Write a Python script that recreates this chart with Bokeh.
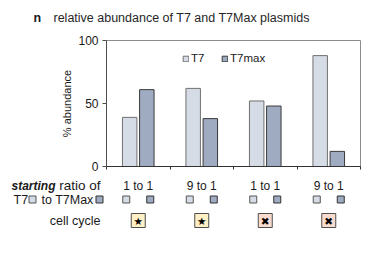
from bokeh.plotting import figure
from bokeh.models import Range1d, Label, FixedTicker, Legend, LinearAxis
from bokeh.core.properties import value
from bokeh.embed import file_html
from bokeh.resources import INLINE
import numpy as np

# starting T7 : T7Max ratio of each culture
ratios = ["1 to 1", "9 to 1", "1 to 1", "9 to 1"]
# final % abundance of each plasmid
t7 = [39, 62, 52, 88]
t7max = [61, 38, 48, 12]
# cell-cycle state per culture: star = cycling, cross = arrested
cell_cycle = ["★", "★", "✖", "✖"]
y_ticks = [0, 50, 100]

FONT = "Liberation Sans"
INK = "#1a1a1a"
T7_FILL, T7_LINE = "#d6dce5", "#707070"
MAX_FILL, MAX_LINE = "#9fabc1", "#3a3a3a"
CYCLE_FILL = {"★": "#fdf0c6", "✖": "#f9dccf"}

W, H = 378, 258
# chart box inside the canvas (pixels from the left / top edge)
BOX_L, BOX_R, BOX_T, BOX_B = 106, 360, 40, 166

n = len(ratios)
YMAX = 100
kx = (BOX_R - BOX_L) / n          # pixels per category
ky = (BOX_B - BOX_T) / YMAX       # pixels per % unit
PX = 1 / kx


def row_y(py):
    """data y of a row whose centre sits py pixels below the canvas top"""
    return (BOX_B - py) / ky


xs = np.arange(n) + 0.5
off, bw = 0.135, 0.228

p = figure(width=W, height=H,
           x_range=Range1d(-BOX_L / kx, n + (W - BOX_R) / kx),
           y_range=Range1d(-(H - BOX_B) / ky, YMAX + BOX_T / ky),
           x_axis_type=None, y_axis_type=None,
           output_backend="svg", toolbar_location=None,
           min_border=0)
p.background_fill_color = "white"
p.border_fill_color = "white"
p.outline_line_color = None
p.grid.visible = False

# chart frame (top and right edges visible)
p.quad(left=[0], right=[n], bottom=[0], top=[YMAX], fill_color=None, line_color="#8c8c8c", line_width=1)

r1 = p.vbar(x=xs - off, top=t7, width=bw, fill_color=T7_FILL, line_color=T7_LINE, line_width=1)
r2 = p.vbar(x=xs + off, top=t7max, width=bw, fill_color=MAX_FILL, line_color=MAX_LINE, line_width=1)

legend = Legend(items=[("T7", [r1]), ("T7max", [r2])], orientation="horizontal",
                location=(182, 194), glyph_width=7, glyph_height=7, label_standoff=2,
                spacing=10, padding=0, margin=0, label_text_font=FONT,
                label_text_font_size="11.5px", label_height=12, label_text_color=INK,
                background_fill_alpha=0, border_line_alpha=0)
p.add_layout(legend)

ya = LinearAxis(fixed_location=0, bounds=(0, YMAX), ticker=FixedTicker(ticks=y_ticks))
ya.axis_label = "% abundance"
ya.axis_label_text_font = FONT
ya.axis_label_text_font_size = "11px"
ya.axis_label_text_font_style = "normal"
ya.axis_label_text_color = INK
ya.axis_label_standoff = 2
ya.major_label_text_font = FONT
ya.major_label_text_font_size = "12px"
ya.major_label_text_color = INK
ya.major_label_standoff = 4
ya.major_tick_in = 0
ya.major_tick_out = 4
ya.minor_tick_line_color = None
ya.axis_line_color = "#4d4d4d"
ya.major_tick_line_color = "#4d4d4d"
p.add_layout(ya, "left")

xa = LinearAxis(fixed_location=0, bounds=(0, n), ticker=FixedTicker(ticks=list(range(n + 1))))
xa.major_label_overrides = {i: "" for i in range(n + 1)}
xa.major_tick_in = 0
xa.major_tick_out = 3
xa.minor_tick_line_color = None
xa.axis_line_color = "#333333"
xa.major_tick_line_color = "#333333"
p.add_layout(xa, "below")


def txt(text, x, y, xu="screen", align="left", size="12px", style="normal", color=INK):
    p.add_layout(Label(x=x, y=y, x_units=xu, y_units="data", text=text,
                       text_align=align, text_baseline="middle", text_font=FONT,
                       text_font_size=size, text_font_style=style, text_color=color))


# panel title
txt("n", 33, row_y(17), size="12.5px", style="bold")
txt("relative abundance of T7 and T7Max plasmids", 53, row_y(17), size="12.5px", color="#262626")

# row 1: starting ratio
Y1, Y2, Y3 = row_y(185), row_y(199), row_y(220)
txt("ratio of", 100, Y1, align="right", size="13.5px")
txt("starting", 55, Y1, align="right", size="12px", style="bold italic")
for xc, r in zip(xs, ratios):
    txt(r, xc, Y1, xu="data", align="center", size="12px")

# row 2: plasmid key squares
txt("T7", 13, Y2, size="12.5px")
txt("to T7Max", 41, Y2, size="12.5px")
p.scatter(x=[(32 - BOX_L) / kx], y=[Y2], marker="square", size=7, fill_color=T7_FILL, line_color="#555555")
p.scatter(x=[(99 - BOX_L) / kx], y=[Y2], marker="square", size=7, fill_color=MAX_FILL, line_color="#333333")
p.scatter(x=xs - 12 * PX, y=[Y2] * n, marker="square", size=7, fill_color=T7_FILL, line_color="#555555")
p.scatter(x=xs + 12 * PX, y=[Y2] * n, marker="square", size=7, fill_color=MAX_FILL, line_color="#333333")

# row 3: cell cycle
txt("cell cycle", 100, Y3, align="right", size="12.5px")
p.scatter(x=xs, y=[Y3] * n, marker="square", size=14,
          fill_color=[CYCLE_FILL[c] for c in cell_cycle], line_color="#4d4d4d")
p.text(x=xs, y=[Y3] * n, text=cell_cycle, text_align="center", text_baseline="middle",
       text_font=value("DejaVu Sans"), text_font_size="10.5px", text_color="black")

open("out.html", "w").write(file_html(p, INLINE))
